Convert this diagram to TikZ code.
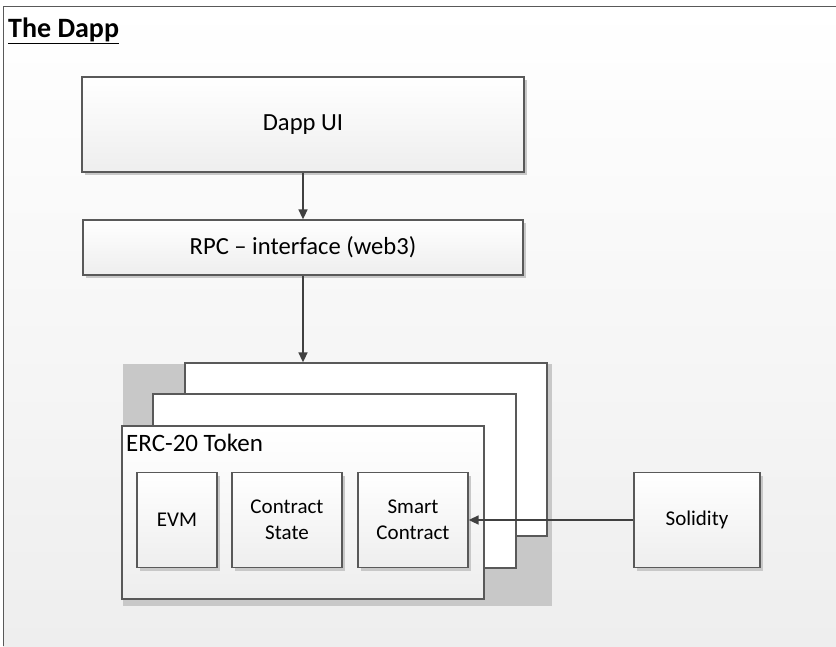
\documentclass[tikz,border=0pt]{standalone}
\usepackage{fontspec}
\setmainfont{Carlito}
\usetikzlibrary{arrows.meta,shadows}
\definecolor{edge}{HTML}{595959}
\definecolor{shadowgray}{HTML}{C8C8C8}
\definecolor{bgbot}{HTML}{EEEEEE}
\definecolor{arrowc}{HTML}{404040}
\tikzset{
  box/.style={draw=edge, line width=1.3pt, top color=white, bottom color=bgbot,
    general shadow={fill=shadowgray, shadow xshift=3pt, shadow yshift=-3pt},
    inner sep=0pt, align=center, text=black},
  plainbox/.style={draw=edge, line width=1.3pt, fill=white, inner sep=0pt},
  arr/.style={draw=arrowc, line width=1.6pt, -{Triangle[length=10pt,width=9pt]}},
}
\begin{document}
\begin{tikzpicture}[x=1pt,y=-1pt]
\useasboundingbox (0,0) rectangle (836,646);
% background
\shade[top color=white, bottom color=bgbot] (3,6) rectangle (836,646);
\draw[edge, line width=1.5pt] (3.5,646) -- (3.5,6.5) -- (836,6.5);
\node[anchor=base west, inner sep=0pt, font=\fontsize{28}{32}\selectfont\bfseries] (title) at (8,37) {\underline{The Dapp}};
% top boxes
\node[box, minimum width=442pt, minimum height=95pt, font=\fontsize{24.6}{28}\selectfont] (ui) at (303,124.5) {Dapp UI};
\node[box, minimum width=440pt, minimum height=55pt, font=\fontsize{24.6}{28}\selectfont] (rpc) at (303,247.5) {RPC – interface (web3)};
% stack
\fill[shadowgray] (123,364) rectangle (552,606);
\node[plainbox, minimum width=362pt, minimum height=173pt] (stackc) at (366,449.5) {};
\node[plainbox, minimum width=363pt, minimum height=174pt] (stackb) at (334.5,481) {};
\node[draw=edge, line width=1.3pt, top color=white, bottom color=bgbot, inner sep=0pt,
      minimum width=362pt, minimum height=173pt] (token) at (303,512.5) {};
\node[anchor=base west, inner sep=0pt, font=\fontsize{25}{28}\selectfont] (tokenlabel) at (126,451) {ERC-20 Token};
% inner boxes
\node[box, minimum width=80pt, minimum height=95pt, font=\fontsize{21}{26}\selectfont] (evm) at (177,520) {EVM};
\node[box, minimum width=110pt, minimum height=95pt, font=\fontsize{21}{26}\selectfont] (state) at (287,520) {Contract\\State};
\node[box, minimum width=110pt, minimum height=95pt, font=\fontsize{21}{26}\selectfont] (smart) at (413,520) {Smart\\Contract};
\node[box, minimum width=126pt, minimum height=95pt, font=\fontsize{21}{26}\selectfont] (sol) at (697,520) {Solidity};
% connectors
\draw[arr] (ui.south) -- (rpc.north);
\draw[arr] (rpc.south) -- (rpc.south |- stackc.north);
\draw[arr] (sol.west) -- (smart.east);
\end{tikzpicture}
\end{document}
